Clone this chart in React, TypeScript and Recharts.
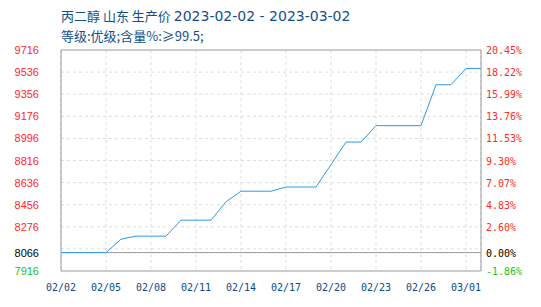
import { CartesianGrid, Line, LineChart, ReferenceLine, XAxis, YAxis } from "recharts";

const dates = [
  "02/02", "02/03", "02/04", "02/05", "02/06", "02/07", "02/08", "02/09", "02/10", "02/11",
  "02/12", "02/13", "02/14", "02/15", "02/16", "02/17", "02/18", "02/19", "02/20", "02/21",
  "02/22", "02/23", "02/24", "02/25", "02/26", "02/27", "02/28", "03/01", "03/02",
];
const prices = [
  8066, 8066, 8066, 8066, 8175, 8200, 8200, 8200, 8330, 8330,
  8330, 8480, 8566, 8566, 8566, 8600, 8600, 8600, 8783, 8966,
  8966, 9100, 9100, 9100, 9100, 9433, 9433, 9566, 9566,
];
const yTicks = [7916, 8066, 8276, 8456, 8636, 8816, 8996, 9176, 9356, 9536, 9716];
const pctLabels = ["-1.86%", "0.00%", "2.60%", "4.83%", "7.07%", "9.30%", "11.53%", "13.76%", "15.99%", "18.22%", "20.45%"];
const gridLevels = [8096, 8276, 8456, 8636, 8816, 8996, 9176, 9356, 9536];

const base = prices[0];
const data = dates.map((date, i) => ({ date, price: prices[i] }));
const domain = [yTicks[0], yTicks[yTicks.length - 1]];

const tickColor = (v: number) => (v === base ? "#000000" : v < base ? "#22c422" : "#ff2a2a");

const LeftTick = ({ x, y, payload }: any) => (
  <text x={x} y={y} dy={4} textAnchor="end" fontSize={11} fontFamily="'Liberation Sans', Arial" fill={tickColor(payload.value)}>
    {payload.value}
  </text>
);

const RightTick = ({ x, y, payload }: any) => {
  const v = payload.value as number;
  return (
    <text x={x} y={y} dy={4} textAnchor="start" fontSize={10} fontFamily="'DejaVu Sans Mono', monospace" fill={tickColor(v)}>
      {pctLabels[yTicks.indexOf(v)]}
    </text>
  );
};

const DateTick = ({ x, y, payload }: any) => (
  <text x={x} y={y} dy={20} textAnchor="middle" fontSize={10} fontFamily="'DejaVu Sans Mono', monospace" fill="#0d4a86">
    {payload.value}
  </text>
);

export default function App() {
  const frame = "#9a9a9a";
  return (
    <div style={{ position: "absolute", left: 0, top: 0, width: 541, height: 307, background: "#fff" }}>
      <div
        style={{
          position: "absolute", left: 61, top: 6, fontSize: 13, lineHeight: "19px",
          fontFamily: "'Noto Sans CJK SC', sans-serif", color: "#134f8b", whiteSpace: "nowrap",
        }}
      >
        <div>
          丙二醇 山东 生产价{" "}
          <span style={{ fontFamily: "'DejaVu Sans', sans-serif", fontSize: 14 }}>2023-02-02 - 2023-03-02</span>
        </div>
        <div>等级:优级;含量%:≥99.5;</div>
      </div>
      <LineChart width={541} height={307} data={data} margin={{ top: 50, right: 0, bottom: 0, left: 0 }}>
        <CartesianGrid horizontal={false} stroke="#dddddd" strokeDasharray="3 3" />
        {gridLevels.map((v) => (
          <ReferenceLine key={v} yAxisId="left" y={v} stroke="#dddddd" strokeDasharray="3 3" />
        ))}
        <ReferenceLine yAxisId="left" y={base} stroke={frame} />
        <ReferenceLine yAxisId="left" y={domain[1]} stroke={frame} />
        <XAxis
          dataKey="date" interval={2} height={36} tickSize={0} tickMargin={0}
          axisLine={{ stroke: frame }} tick={<DateTick />}
        />
        <YAxis
          yAxisId="left" width={61} domain={domain} ticks={yTicks} type="number"
          interval={0} tickSize={0} tickMargin={22} axisLine={{ stroke: frame }} tick={<LeftTick />}
        />
        <YAxis
          yAxisId="right" orientation="right" width={60} domain={domain} type="number"
          ticks={yTicks} interval={0} tickSize={0} tickMargin={5} axisLine={{ stroke: frame }} tick={<RightTick />}
        />
        {/* the percent axis shares the price scale; this copy only binds it */}
        <Line
          yAxisId="right" dataKey="price" stroke="none" dot={false} activeDot={false}
          legendType="none" isAnimationActive={false}
        />
        <Line
          yAxisId="left" dataKey="price" stroke="#2e9be8" strokeWidth={1} dot={false}
          type="linear" isAnimationActive={false}
        />
      </LineChart>
    </div>
  );
}
